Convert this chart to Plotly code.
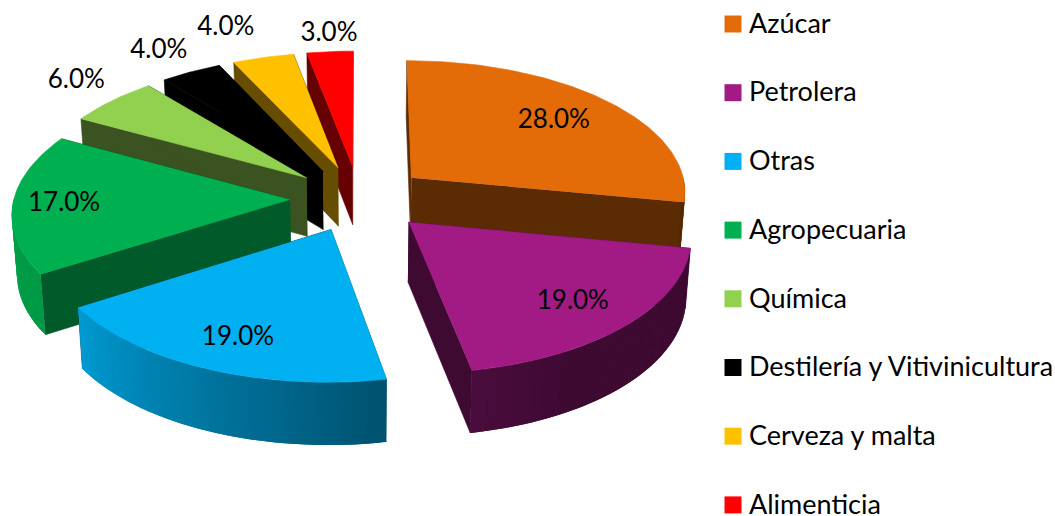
import numpy as np
import plotly.graph_objects as go

# Data
categories = ["Azúcar", "Petrolera", "Otras", "Agropecuaria", "Química",
              "Destilería y Vitivinicultura", "Cerveza y malta", "Alimenticia"]
shares = [28.0, 19.0, 19.0, 17.0, 6.0, 4.0, 4.0, 3.0]

# Styles
colors = ["#E36C09", "#A21A84", "#00B0F0", "#00B050", "#92D050", "#000000", "#FFC000", "#FF0000"]
wall_shade = [0.40, 0.38, 0.40, 0.51, 0.40, 0.40, 0.40, 0.40]
label_dist = [0.97, 1.03, 1.045, 1.065, 1.48, 1.49, 1.57, 1.415]
label_turn = [0, 0.6, -1, -0.5, 1.3, -0.6, -2.5, 0.4]
draw_order = [7, 6, 5, 4, 3, 0, 1, 2]

# Projection of the tilted, exploded pie
CX, CY, A, B, P, H, EXPLODE, TAPER = 359, 198.5, 276, 132, 0.095, 59, 0.25, 0.985
FONT = "Lato"
LABEL_SIZE = 26
LEGEND_SIZE = 27
LEGEND_X, LEGEND_TOP, LEGEND_STEP = 733, 24, 68.7
LEGEND_TEXT_DX, LEGEND_TEXT_DY = 16, 2


def project(X, Y, low=False):
    X, Y = np.asarray(X, float), np.asarray(Y, float)
    s = 1 / (1 - P * Y)
    sx = CX + A * X * s
    sy = CY + B * Y * s
    if low:
        sy = sy + H * np.sqrt(s)
        sx = CX + (sx - CX) * TAPER
    return sx, sy


def shade(hex_color, f):
    r, g, b = (int(hex_color[i:i + 2], 16) for i in (1, 3, 5))
    return f"rgb({r * f:.0f},{g * f:.0f},{b * f:.0f})"


def poly(xs, ys, color, lw=0.6):
    return go.Scatter(x=list(xs), y=list(ys), mode="lines", fill="toself", fillcolor=color,
                      line=dict(color=color, width=lw), showlegend=False, hoverinfo="skip")


fig = go.Figure()
edges = np.concatenate([[0], np.cumsum(shares)]) / sum(shares) * 360

for i in draw_order:
    t0, t1 = edges[i], edges[i + 1]
    mid = np.radians((t0 + t1) / 2)
    ox, oy = EXPLODE * np.sin(mid), -EXPLODE * np.cos(mid)
    th = np.radians(np.linspace(t0, t1, max(8, int(t1 - t0) + 2)))
    ax = ox + np.sin(th)
    ay = oy - np.cos(th)

    # radial walls
    for j in (0, -1):
        xt, yt = project([ox, ax[j]], [oy, ay[j]])
        xb, yb = project([ox, ax[j]], [oy, ay[j]], low=True)
        fig.add_trace(poly(np.r_[xt, xb[::-1]], np.r_[yt, yb[::-1]], shade(colors[i], wall_shade[i])))

    # rim, shaded by facing direction; strips overlap so no seams show
    xt, yt = project(ax, ay)
    xb, yb = project(ax, ay, low=True)
    deg = np.degrees(th)
    for k in range(len(th) - 1):
        dm = (deg[k] + deg[k + 1]) / 2
        if 90 < dm < 270:
            f = np.interp(dm, [100, 150, 169, 237, 270], [0.38, 0.38, 0.46, 0.87, 0.90])
            e = min(k + 3, len(th))
            fig.add_trace(poly(np.r_[xt[k:e], xb[k:e][::-1]], np.r_[yt[k:e], yb[k:e][::-1]],
                               shade(colors[i], f), lw=0))

    # top face
    px, py = project(np.r_[ox, ax], np.r_[oy, ay])
    fig.add_trace(poly(px, py, colors[i]))

# data labels
mids = np.radians((edges[:-1] + edges[1:]) / 2 + np.array(label_turn))
lx, ly = project(np.array(label_dist) * np.sin(mids), -np.array(label_dist) * np.cos(mids))
fig.add_trace(go.Scatter(x=lx, y=ly, mode="text", text=[f"{v:.1f}%" for v in shares],
                         textfont=dict(family=FONT, size=LABEL_SIZE, color="#000000"),
                         showlegend=False, hoverinfo="skip", cliponaxis=False))

# legend column
for n, (name, c) in enumerate(zip(categories, colors)):
    row = LEGEND_TOP + n * LEGEND_STEP
    fig.add_trace(go.Scatter(x=[LEGEND_X], y=[row], mode="markers", name=name,
                             marker=dict(symbol="square", size=17, color=c, line=dict(width=0)),
                             showlegend=False, hoverinfo="name", cliponaxis=False))
    fig.add_trace(go.Scatter(x=[LEGEND_X + LEGEND_TEXT_DX], y=[row + LEGEND_TEXT_DY], mode="text",
                             text=[name], textposition="middle right",
                             textfont=dict(family=FONT, size=LEGEND_SIZE, color="#000000"),
                             showlegend=False, hoverinfo="skip", cliponaxis=False))

fig.update_layout(
    width=1055, height=516, autosize=False, margin=dict(l=0, r=0, t=0, b=0, pad=0),
    paper_bgcolor="white", plot_bgcolor="white",
    xaxis=dict(range=[0, 1055], visible=False, fixedrange=True),
    yaxis=dict(range=[516, 0], visible=False, fixedrange=True),
)

fig.write_html("out.html",
               post_script="document.body.style.margin='0';document.documentElement.style.overflow='hidden';",
               config={"displayModeBar": False})
